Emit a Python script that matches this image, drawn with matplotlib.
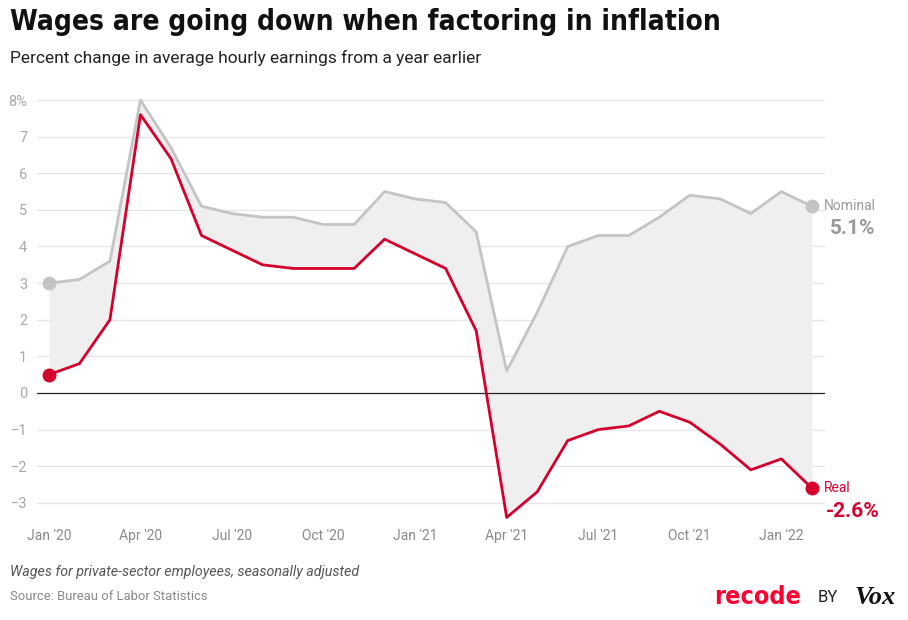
import matplotlib.pyplot as plt
import numpy as np

# monthly, Jan 2020 .. Feb 2022
months = np.arange(26)
nominal = [3.0, 3.1, 3.6, 8.0, 6.7, 5.1, 4.9, 4.8, 4.8, 4.6, 4.6, 5.5, 5.3,
           5.2, 4.4, 0.6, 2.2, 4.0, 4.3, 4.3, 4.8, 5.4, 5.3, 4.9, 5.5, 5.1]
real = [0.5, 0.8, 2.0, 7.6, 6.4, 4.3, 3.9, 3.5, 3.4, 3.4, 3.4, 4.2, 3.8,
        3.4, 1.7, -3.4, -2.7, -1.3, -1.0, -0.9, -0.5, -0.8, -1.4, -2.1, -1.8, -2.6]
xtick_pos = [0, 3, 6, 9, 12, 15, 18, 21, 24]
xtick_lab = ["Jan '20", "Apr '20", "Jul '20", "Oct '20", "Jan '21",
             "Apr '21", "Jul '21", "Oct '21", "Jan '22"]
yticks = [-3, -2, -1, 0, 1, 2, 3, 4, 5, 6, 7, 8]

RED = "#d5002b"
GREY = "#c4c4c4"

plt.rcParams['font.family'] = ['Roboto', 'DejaVu Sans']

fig = plt.figure(figsize=(9.08, 6.2), dpi=100)
ax = fig.add_axes([37/908, 1-524.8/620, (825-37)/908, (524.8-92.7)/620])

ax.fill_between(months, nominal, real, color="#efefef", lw=0, zorder=1)
for y in yticks:
    if y != 0:
        ax.axhline(y, color="#e6e6e6", lw=1, zorder=0)
ax.axhline(0, color="#222222", lw=0.9, zorder=2)
ax.plot(months, nominal, color=GREY, lw=2, zorder=3)
ax.plot(months, real, color=RED, lw=2, zorder=4)
ax.plot([months[0], months[-1]], [nominal[0], nominal[-1]], 'o', color=GREY, ms=9, zorder=5)
ax.plot([months[0], months[-1]], [real[0], real[-1]], 'o', color=RED, ms=9, zorder=5)

ax.set_xlim(-0.39, 25.43)
ax.set_ylim(-3.6, 8.2)
ax.set_xticks(xtick_pos)
ax.set_xticklabels(xtick_lab)
ax.set_yticks(yticks)
ax.set_yticklabels([("\u2212%d" % -v if v < 0 else str(v)) for v in yticks[:-1]] + ["8%"])
ax.tick_params(axis='both', length=0, colors="#a8a8a8", labelsize=10.5)
ax.tick_params(axis='x', pad=3, colors="#8a8a8a", labelsize=10)
ax.tick_params(axis='y', pad=7)
for s in ax.spines.values():
    s.set_visible(False)

ax.text(months[-1] + 0.4, nominal[-1], "Nominal", color="#9a9a9a", fontsize=10,
        va='center', ha='left')
ax.text(months[-1] + 0.6, nominal[-1] - 0.62, "5.1%", color="#999999", fontsize=15,
        fontweight='bold', va='center', ha='left')
ax.text(months[-1] + 0.4, real[-1], "Real", color=RED, fontsize=10,
        va='center', ha='left')
ax.text(months[-1] + 0.45, real[-1] - 0.65, "-2.6%", color=RED, fontsize=15,
        fontweight='bold', va='center', ha='left')

fig.text(10/908, 1-22/620, "Wages are going down when factoring in inflation",
         family='DejaVu Sans', fontstretch='condensed', fontweight='bold',
         fontsize=20.2, va='center', ha='left', color="#111111")
fig.text(10/908, 1-58/620, "Percent change in average hourly earnings from a year earlier",
         fontsize=12.5, va='center', ha='left', color="#222222")
fig.text(10/908, 1-572/620, "Wages for private-sector employees, seasonally adjusted",
         fontsize=10.3, style='italic', va='center', ha='left', color="#555555")
fig.text(10/908, 1-597/620, "Source: Bureau of Labor Statistics",
         fontsize=9.4, va='center', ha='left', color="#888888")

fig.text(714/908, 1-597/620, "recode", fontsize=18, fontweight='bold', color="#ff0033",
         family='DejaVu Sans', fontstretch='condensed', va='center', ha='left')
fig.text(818/908, 1-598/620, "BY", fontsize=12, color="#222222", va='center', ha='left')
fig.text(854/908, 1-597/620, "Vox", fontsize=19, fontweight='bold', style='italic',
         family=['Liberation Serif', 'DejaVu Serif'], color="#111111", va='center', ha='left')

fig.savefig("out.png", dpi=100)
